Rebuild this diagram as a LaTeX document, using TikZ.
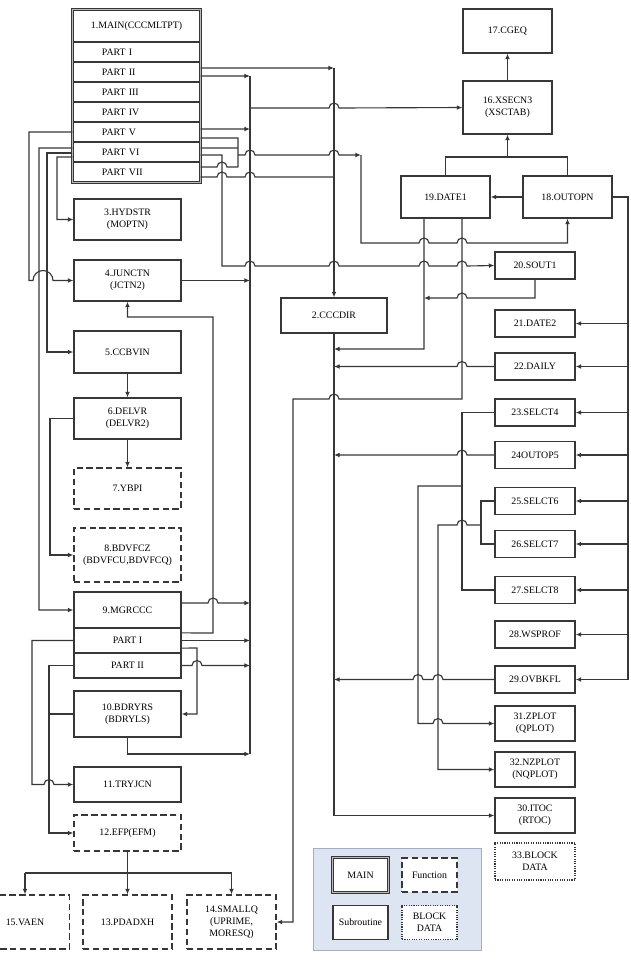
\documentclass[tikz,border=0pt]{standalone}
\usepackage{fontspec}
\setmainfont{Liberation Serif}
\usetikzlibrary{positioning,arrows.meta,calc}
\definecolor{lineg}{RGB}{55,55,55}
\definecolor{legblue}{RGB}{222,229,242}
\definecolor{legedge}{RGB}{165,175,195}
\newcommand{\boxfont}{\fontsize{7}{8.4}\selectfont}

\begin{document}
\begin{tikzpicture}[x=0.025cm, y=-0.025cm,
    sub/.style={rectangle, draw=lineg, line width=0.85pt, align=center, font=\boxfont, inner sep=1pt},
    lsub/.style={sub, minimum width=2.675cm},
    rsub/.style={sub, minimum width=2cm, minimum height=0.675cm},
    bsub/.style={sub, minimum width=2.225cm},
    ksub/.style={sub, fill=white, minimum width=1.375cm, minimum height=0.85cm},
    func/.style={dash pattern=on 4.5pt off 2.5pt},
    blk/.style={dash pattern=on 0.8pt off 0.9pt},
    part/.style={sub, minimum width=3.175cm, minimum height=0.5cm, text width=1.725cm, inner xsep=0.725cm, align=left},
    dbl/.style={draw=lineg, line width=0.7pt, double=lineg!35, double distance=0.8pt},
    ln/.style={draw=lineg, line width=0.8pt},
    arr/.style={ln, -{Latex[length=4pt,width=3.4pt]}}
  ]
  \useasboundingbox (0,0) rectangle (631,968);

  % MAIN
  \node[sub, minimum width=3.175cm, minimum height=0.8cm] (m0) at (136.5,26) {1.MAIN(CCCMLTPT)};
  \node[part] (m1) at (136.5,52) {PART I};
  \node[part] (m2) at (136.5,72) {PART II};
  \node[part] (m3) at (136.5,92) {PART III};
  \node[part] (m4) at (136.5,112) {PART IV};
  \node[part] (m5) at (136.5,132) {PART V};
  \node[part] (m6) at (136.5,152) {PART VI};
  \node[part] (m7) at (136.5,172) {PART VII};
  \draw[dbl] (m0.north west) rectangle (m7.south east);

  % left column
  \node[lsub, minimum height=1.025cm] (n3) at (127.5,219.5) {3.HYDSTR\\(MOPTN)};
  \node[lsub, minimum height=1.025cm] (n4) at (127.5,280.5) {4.JUNCTN\\(JCTN2)};
  \node[lsub, minimum height=1.05cm] (n5) at (127.5,352) {5.CCBVIN};
  \node[lsub, minimum height=1.025cm] (n6) at (127.5,418.5) {6.DELVR\\(DELVR2)};
  \node[lsub, func, minimum height=1.025cm] (n7) at (127.5,488.5) {7.YBPI};
  \node[lsub, func, minimum height=1.35cm] (n8) at (127.5,555) {8.BDVFCZ\\(BDVFCU,BDVFCQ)};
  \node[lsub, minimum height=0.9cm] (g0) at (127.5,610) {9.MGRCCC};
  \node[lsub, minimum height=0.625cm] (g1) at (127.5,640.5) {PART I};
  \node[lsub, minimum height=0.625cm] (g2) at (127.5,665.5) {PART II};
  \node[lsub, minimum height=1.15cm] (n10) at (127.5,714) {10.BDRYRS\\(BDRYLS)};
  \node[lsub, minimum height=0.875cm] (n11) at (127.5,784.5) {11.TRYJCN};
  \node[lsub, func, minimum height=0.9cm] (n12) at (127.5,833) {12.EFP(EFM)};
  \node[bsub, func, minimum height=1.35cm] (n15) at (25,922) {15.VAEN};
  \node[bsub, func, minimum height=1.35cm] (n13) at (127.5,922) {13.PDADXH};
  \node[bsub, func, minimum height=1.35cm] (n14) at (231.5,922) {14.SMALLQ\\(UPRIME,\\MORESQ)};

  % middle and top right
  \node[sub, minimum width=2.65cm, minimum height=0.875cm] (n2) at (334,315.5) {2.CCCDIR};
  \node[bsub, minimum height=1.1cm] (n17) at (507.5,31) {17.CGEQ};
  \node[bsub, minimum height=1.325cm] (n16) at (507.5,107.5) {16.XSECN3\\(XSCTAB)};
  \node[bsub, minimum height=1.05cm] (n19) at (445.5,197) {19.DATE1};
  \node[bsub, minimum height=1.05cm] (n18) at (567.5,197) {18.OUTOPN};

  % right column
  \node[rsub] (n20) at (535,265.5) {20.SOUT1};
  \node[rsub] (n21) at (535,323.5) {21.DATE2};
  \node[rsub] (n22) at (535,366.5) {22.DAILY};
  \node[rsub] (n23) at (535,412.5) {23.SELCT4};
  \node[rsub] (n24) at (535,455) {24OUTOP5};
  \node[rsub] (n25) at (535,501) {25.SELCT6};
  \node[rsub] (n26) at (535,544) {26.SELCT7};
  \node[rsub] (n27) at (535,590) {27.SELCT8};
  \node[rsub] (n28) at (535,634.5) {28.WSPROF};
  \node[rsub] (n29) at (535,679.5) {29.OVBKFL};
  \node[rsub, minimum height=0.875cm] (n31) at (535,723.5) {31.ZPLOT\\(QPLOT)};
  \node[rsub, minimum height=0.875cm] (n32) at (535,769.5) {32.NZPLOT\\(NQPLOT)};
  \node[rsub, minimum height=0.875cm] (n30) at (535,815.5) {30.ITOC\\(RTOC)};
  \node[rsub, blk, minimum height=0.925cm] (n33) at (535,861.5) {33.BLOCK\\DATA};

  % legend
  \node[draw=legedge, fill=legblue, minimum width=4.2cm, minimum height=2.55cm] (leg) at (397,899) {};
  \node[ksub, draw=none] (kmain) at (360.5,875) {MAIN};
  \draw[dbl] (kmain.north west) rectangle (kmain.south east);
  \node[ksub, func] (kfunc) at (429.5,875) {Function};
  \node[ksub] (ksub) at (360.5,922.5) {Subroutine};
  \node[ksub, blk] (kblk) at (429.5,922.5) {BLOCK\\DATA};

  % MAIN to CCCDIR and XSECN3
  \coordinate (c2) at (334,68);
  \coordinate (busT) at (250,76);
  \coordinate (busB) at (250,754);
  \draw[arr] ([yshift=1mm]m2.east) -- (c2);
  \draw[arr] (c2) -- (n2);
  \draw[ln] (busT) -- (busB);
  \draw[arr] ([yshift=-1mm]m2.east) -- (busT);
  \draw[arr] (250,108) -- (329,108) arc (180:360:5) -- (n16.west);
  \draw[arr] ([yshift=0.075cm]m5.east) -- (250,129);

  % MAIN to left column
  \draw[arr] (m5.west) -- (29,132) -- (29,280.5) -- (33,280.5) arc (180:360:10) -- (n4.west);
  \draw[arr] ([yshift=0.1cm]m6.west) -- (39,148) -- (39,610) -- (g0.west);
  \draw[arr] ([yshift=-0.025cm]m6.west) -- (47,153) -- (47,352) -- (n5.west);
  \draw[arr] ([yshift=-0.125cm]m6.west) -- (57,157) -- (57,219.5) -- (n3.west);

  % MAIN to OUTOPN and SOUT1
  \draw[ln] ([yshift=-0.15cm]m5.east) -- (238,138) -- (238,167);
  \draw[ln] ([yshift=0.1cm]m6.east) -- (238,148);
  \draw[ln] ([yshift=0.125cm]m7.east) -- (217,167) arc (180:360:5) -- (238,167);
  \draw[arr] (238,155) -- (245,155) arc (180:360:5) -- (329,155) arc (180:360:5) -- (361,155);
  \draw[arr] (361,155) -- (361,243) -- (419,243) arc (180:360:5) -- (457,243) arc (180:360:5) -- (567.5,243) -- (n18.south);
  \draw[arr] ([yshift=-0.075cm]m6.east) -- (222,155) -- (222,266) -- (245,266) arc (180:360:5) -- (329,266) arc (180:360:5)
    -- (419,266) arc (180:360:5) -- (457,266) arc (180:360:5) -- (n20.west);
  \draw[ln] ([yshift=-0.125cm]m7.east) -- (217,177) arc (180:360:5) -- (245,177) arc (180:360:5) -- (334,177);

  % XSECN3 group
  \draw[arr] (n16) -- (n17);
  \draw[ln] (n19.north) -- (445.5,157) -- (567.5,157) -- (n18.north);
  \draw[arr] (507.5,157) -- (n16.south);
  \draw[arr] (n18) -- (n19);
  \coordinate (rbus) at (628,197);
  \draw[ln] (n18.east) -- (rbus) -- (628,679.5);
  \foreach \n in {21,22,...,29}
    \draw[arr] (rbus |- n\n.east) -- (n\n.east);

  % DATE1 down
  \draw[arr] ([xshift=-0.5375cm]n19.south) -- (424,349) -- (334,349);
  \draw[arr] (n20.south) -- (535,298) -- (467,298) arc (0:-180:5) -- (424,298);
  \draw[arr] ([xshift=0.4125cm]n19.south) -- (462,399) -- (339,399) arc (0:-180:5) -- (293,399) -- (293,922) -- (n14.east);

  % CCCDIR down
  \draw[arr] (n2.south) -- (334,815.5) -- (n30.west);
  \draw[arr] (n22.west) -- (467,366.5) arc (0:-180:5) -- (334,366.5);
  \draw[arr] (n24.west) -- (467,455) arc (0:-180:5) -- (334,455);
  \draw[arr] (n29.west) -- (443,679.5) arc (0:-180:5) -- (423,679.5) arc (0:-180:5) -- (334,679.5);

  % SELCT group
  \draw[ln] (n23.west) -- (462,412.5) -- (462,590) -- (n27.west);
  \draw[arr] (462,486) -- (418,486) -- (418,723.5) -- (433,723.5) arc (180:360:5) -- (n31.west);
  \draw[ln] (n25.west) -- (481,501) -- (481,544) -- (n26.west);
  \draw[arr] (481,525) -- (467,525) arc (0:-180:5) -- (438,525) -- (438,769.5) -- (n32.west);

  % MGRCCC and lower left
  \draw[arr] (n4.east) -- (250,280.5);
  \draw[arr] ([yshift=0.19cm]g1.east) -- (213,633) -- (213,317) -- (127.5,317) -- (n4.south);
  \draw[arr] ([yshift=0.175cm]g0.east) -- (208,603) arc (180:360:5) -- (250,603);
  \draw[arr] (g1.east) -- (250,640.5);
  \draw[arr] ([yshift=-0.19cm]g1.east) -- (197,648) -- (197,714) -- (n10.east);
  \draw[arr] (g2.east) -- (192,665.5) arc (180:360:5) -- (250,665.5);
  \draw[arr] (n10.south) -- (127.5,754) -- (busB);
  \draw[arr] (g1.west) -- (32,640.5) -- (32,784.5) -- (44,784.5) arc (180:360:5) -- (n11.west);
  \draw[arr] (g2.west) -- (49,665.5) -- (49,833) -- (n12.west);
  \draw[ln] (n10.west) -- (49,714);
  \draw[arr] (n6.west) -- (50,418.5) -- (50,555) -- (n8.west);
  \draw[arr] (n5) -- (n6);
  \draw[arr] (n6) -- (n7);

  % EFP fan-out
  \draw[ln] (n12.south) -- (127.5,873);
  \draw[ln] (25,873) -- (231.5,873);
  \draw[arr] (25,873) -- (n15.north);
  \draw[arr] (127.5,873) -- (n13.north);
  \draw[arr] (231.5,873) -- (n14.north);
\end{tikzpicture}
\end{document}
